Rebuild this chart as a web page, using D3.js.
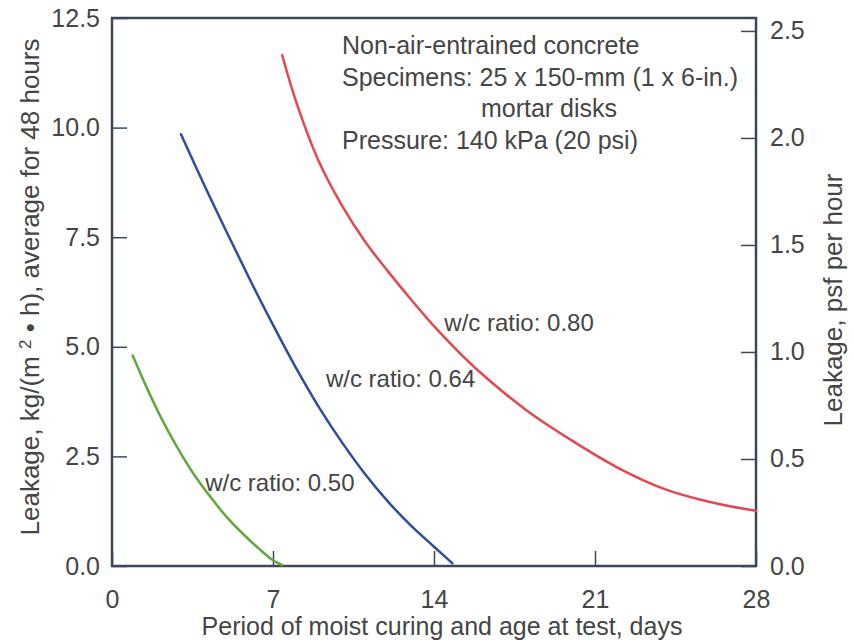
<!DOCTYPE html>
<html>
<head>
<meta charset="utf-8">
<script src="https://cdn.jsdelivr.net/npm/d3@7.9.0/dist/d3.min.js"></script>
<style>
  body { margin: 0; background: #fff; }
  svg { display: block; }
  text { font-family: "Liberation Sans", Arial, sans-serif; fill: #454545; }
</style>
</head>
<body>
<svg id="chart" width="854" height="642"></svg>
<script>
// leakage curves, kg/(m2 h) vs days
const greenDays = [0.9, 1.5, 2.1, 2.8, 3.5, 4.3, 5.0, 5.7, 6.4, 7.0, 7.4];
const greenLeak = [4.80, 4.08, 3.42, 2.74, 2.14, 1.56, 1.11, 0.73, 0.39, 0.13, 0.02];

const blueDays = [3.0, 4.0, 5.0, 6.0, 7.0, 8.0, 9.0, 10.0, 11.0, 12.0, 13.0, 14.0, 14.8];
const blueLeak = [9.85, 8.7, 7.6, 6.53, 5.5, 4.52, 3.62, 2.82, 2.1, 1.47, 0.92, 0.44, 0.06];

const redDays = [7.4, 8.0, 9.0, 10.0, 11.0, 12.0, 13.0, 14.0, 15.0, 16.0, 18.0, 20.0, 22.0, 24.0, 26.0, 28.0];
const redLeak = [11.65, 10.6, 9.22, 8.22, 7.4, 6.72, 6.08, 5.47, 4.92, 4.42, 3.56, 2.86, 2.24, 1.76, 1.46, 1.26];

const xTicks = [0, 7, 14, 21, 28];
const leftTicks = [0, 2.5, 5, 7.5, 10, 12.5];
const rightTicks = [0, 0.5, 1, 1.5, 2, 2.5];
const kgPerPsf = 4.882; // 1 psf per hour = 4.882 kg/(m2 h)

const series = [
  { days: greenDays, leak: greenLeak, color: '#5ea83c', label: 'w/c ratio: 0.50', lx: 4.05, ly: 1.91 },
  { days: blueDays, leak: blueLeak, color: '#2b4e9e', label: 'w/c ratio: 0.64', lx: 9.3, ly: 4.28 },
  { days: redDays, leak: redLeak, color: '#e6474f', label: 'w/c ratio: 0.80', lx: 14.45, ly: 5.56 }
];

const notes = [
  { text: 'Non-air-entrained concrete', x: 342, y: 45, anchor: 'start' },
  { text: 'Specimens: 25 x 150-mm (1 x 6-in.)', x: 342, y: 77, anchor: 'start' },
  { text: 'mortar disks', x: 549, y: 108, anchor: 'middle' },
  { text: 'Pressure: 140 kPa (20 psi)', x: 342, y: 140, anchor: 'start' }
];

const width = 854, height = 642;
const margin = { top: 18, right: 98, bottom: 76, left: 112 };
const svg = d3.select('#chart');
const g = svg.append('g').attr('transform', `translate(${margin.left},${margin.top})`);
const w = width - margin.left - margin.right;
const h = height - margin.top - margin.bottom;

const x = d3.scaleLinear().domain([0, 28]).range([0, w]);
const y = d3.scaleLinear().domain([0, 12.5]).range([h, 0]);
const y2 = d3.scaleLinear().domain([0, 12.5 / kgPerPsf]).range([h, 0]);

const axisColor = '#3c4759';

function styleAxis(sel) {
  sel.select('.domain').remove();
  sel.selectAll('.tick line').attr('stroke', axisColor).attr('stroke-width', 1.5);
  sel.selectAll('.tick text')
    .style('font-size', '25px')
    .style('fill', '#454545');
}

g.append('g')
  .attr('transform', `translate(0,${h})`)
  .call(d3.axisBottom(x).tickValues(xTicks).tickSizeInner(-15).tickSizeOuter(0).tickPadding(24).tickFormat(d3.format('d')))
  .call(styleAxis);

g.append('g')
  .call(d3.axisLeft(y).tickValues(leftTicks).tickSizeInner(-15).tickSizeOuter(0).tickPadding(12).tickFormat(d3.format('.1f')))
  .call(styleAxis);

g.append('g')
  .attr('transform', `translate(${w},0)`)
  .call(d3.axisRight(y2).tickValues(rightTicks).tickSizeInner(-15).tickSizeOuter(0).tickPadding(14).tickFormat(d3.format('.1f')))
  .call(styleAxis);

// frame
g.append('rect')
  .attr('width', w).attr('height', h)
  .attr('fill', 'none')
  .attr('stroke', axisColor)
  .attr('stroke-width', 2.5);

const line = d3.line()
  .x(d => x(d[0]))
  .y(d => y(d[1]))
  .curve(d3.curveCatmullRom.alpha(0.5));

series.forEach(s => {
  const pts = s.days.map((d, i) => [d, s.leak[i]]);
  g.append('path')
    .attr('d', line(pts))
    .attr('fill', 'none')
    .attr('stroke', s.color)
    .attr('stroke-width', 2.5)
    .attr('stroke-linecap', 'round');

  g.append('text')
    .attr('x', x(s.lx))
    .attr('y', y(s.ly))
    .attr('dy', '0.35em')
    .attr('text-anchor', 'start')
    .style('font-size', '24px')
    .text(s.label);
});

notes.forEach(n => {
  svg.append('text')
    .attr('x', n.x)
    .attr('y', n.y)
    .attr('dy', '0.35em')
    .attr('text-anchor', n.anchor)
    .style('font-size', '25px')
    .text(n.text);
});

// axis titles
svg.append('text')
  .attr('x', 442)
  .attr('y', 635)
  .attr('text-anchor', 'middle')
  .style('font-size', '25px')
  .text('Period of moist curing and age at test, days');

const leftTitle = svg.append('text')
  .attr('transform', 'translate(30,287) rotate(-90)')
  .attr('dy', '0.35em')
  .attr('text-anchor', 'middle')
  .style('font-size', '26px');
leftTitle.append('tspan').text('Leakage, kg/(m ');
leftTitle.append('tspan').attr('dy', -8).style('font-size', '17px').text('2');
leftTitle.append('tspan').attr('dy', 8).text(' • h), average for 48 hours');

svg.append('text')
  .attr('transform', 'translate(833,300) rotate(-90)')
  .attr('dy', '0.35em')
  .attr('text-anchor', 'middle')
  .style('font-size', '26px')
  .text('Leakage, psf per hour');
</script>
</body>
</html>
